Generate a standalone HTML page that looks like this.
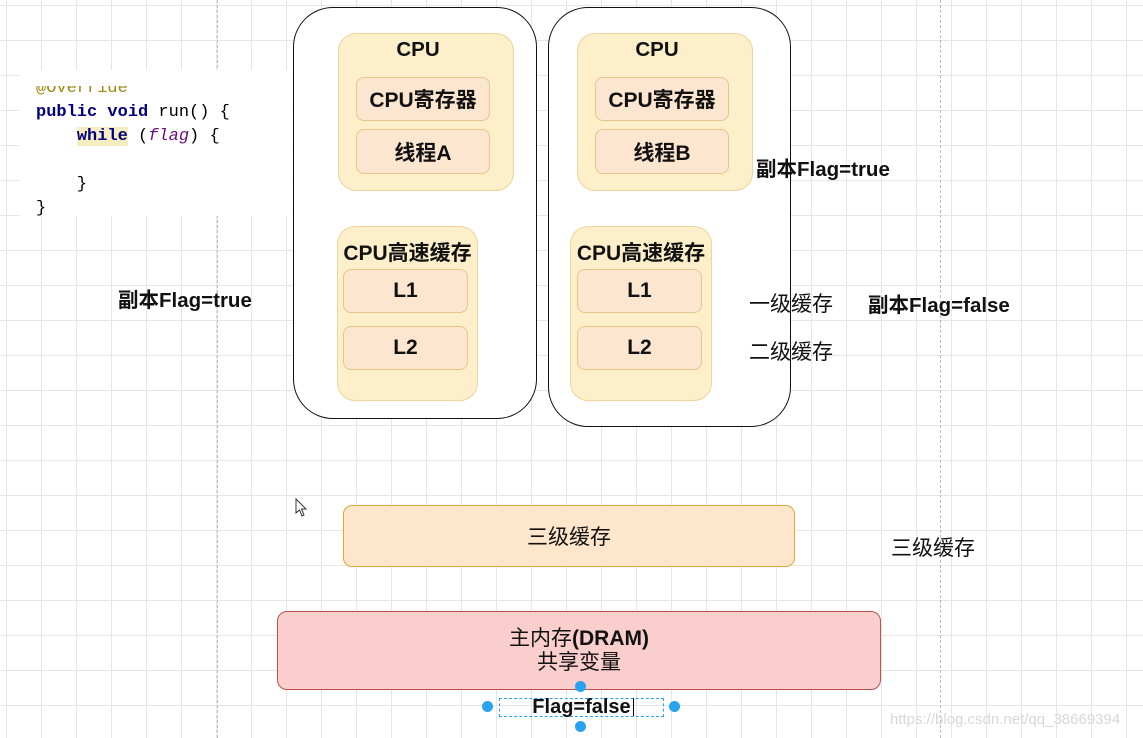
<!DOCTYPE html>
<html><head><meta charset="utf-8"><style>
body{margin:0;width:1143px;height:738px;overflow:hidden;position:relative;font-family:"Liberation Sans","Noto Sans CJK SC",sans-serif;
background-color:#fff;
background-image:linear-gradient(to right,#e6e6e6 1px,transparent 1px),linear-gradient(to bottom,#e6e6e6 1px,transparent 1px);
background-size:35px 35px;background-position:6px 5px;}
.a{position:absolute;box-sizing:border-box;}
.c{display:flex;align-items:center;justify-content:center;text-align:center;white-space:nowrap;}
.outer{border:1.5px solid #111;border-radius:40px;background:#fff;}
.cpu{background:#fdefc9;border:1px solid #f0d49b;border-radius:18px;}
.in{background:#fde6cf;border:1px solid #e8c48a;border-radius:8px;font-weight:bold;font-size:21px;color:#111;}
.b{font-weight:bold;font-size:20.5px;color:#111;white-space:nowrap;}
.t{font-size:21px;color:#111;white-space:nowrap;}
.dash{position:absolute;top:0;height:738px;width:0;border-left:1px dashed #bbb;}
.dot{position:absolute;width:11px;height:11px;border-radius:50%;background:#29a3ef;}
</style></head><body>
<div class="dash" style="left:217px"></div>
<div class="dash" style="left:940px"></div>

<div class="a" style="left:20px;top:78px;width:272px;height:138px;background:#fff;"></div>
<pre class="a" style="left:36px;top:77px;margin:0;font-family:'Liberation Mono','DejaVu Sans Mono',monospace;font-size:17px;line-height:24px;color:#000;"><span style="color:#9e880d">@Override</span>
<span style="color:#000080;font-weight:bold">public void</span> run() {
    <span style="color:#000080;font-weight:bold;background:#f6edc0">while</span> (<i style="color:#660e7a">flag</i>) {

    }
}</pre>
<div class="a" style="left:20px;top:70px;width:272px;height:16px;background:#fff;"></div>

<div class="a outer" style="left:293px;top:7px;width:244px;height:412px"></div>
<div class="a outer" style="left:548px;top:7px;width:243px;height:420px"></div>

<div class="a cpu" style="left:338px;top:33px;width:176px;height:158px"></div>
<div class="a b c" style="left:338px;top:38px;width:160px;height:24px">CPU</div>
<div class="a in c" style="left:356px;top:77px;width:134px;height:44px">CPU寄存器</div>
<div class="a in c" style="left:356px;top:129px;width:134px;height:45px">线程A</div>

<div class="a cpu" style="left:577px;top:33px;width:176px;height:158px"></div>
<div class="a b c" style="left:577px;top:38px;width:160px;height:24px">CPU</div>
<div class="a in c" style="left:595px;top:77px;width:134px;height:44px">CPU寄存器</div>
<div class="a in c" style="left:595px;top:129px;width:134px;height:45px">线程B</div>

<div class="a cpu" style="left:337px;top:226px;width:141px;height:175px"></div>
<div class="a b c" style="left:337px;top:240px;width:141px;height:24px;font-size:21px">CPU高速缓存</div>
<div class="a in c" style="left:343px;top:269px;width:125px;height:44px">L1</div>
<div class="a in c" style="left:343px;top:326px;width:125px;height:44px">L2</div>

<div class="a cpu" style="left:570px;top:226px;width:142px;height:175px"></div>
<div class="a b c" style="left:570px;top:240px;width:142px;height:24px;font-size:21px">CPU高速缓存</div>
<div class="a in c" style="left:577px;top:269px;width:125px;height:44px">L1</div>
<div class="a in c" style="left:577px;top:326px;width:125px;height:44px">L2</div>

<div class="a b" style="left:756px;top:152px">副本Flag=true</div>
<div class="a b" style="left:118px;top:283px">副本Flag=true</div>
<div class="a t" style="left:749px;top:288px">一级缓存</div>
<div class="a b" style="left:868px;top:288px">副本Flag=false</div>
<div class="a t" style="left:749px;top:336px">二级缓存</div>

<div class="a c t" style="left:343px;top:505px;width:452px;height:62px;background:#fee6cc;border:1.5px solid #e0a83a;border-radius:9px;">三级缓存</div>
<div class="a t" style="left:891px;top:532px">三级缓存</div>

<div class="a c t" style="left:277px;top:611px;width:604px;height:79px;background:#f9cecc;border:1.5px solid #b85450;border-radius:10px;flex-direction:column;line-height:24px;"><div>主内存<b>(DRAM)</b></div><div>共享变量</div></div>

<div class="a b c" style="left:499px;top:698px;width:165px;height:19px;border:1px dashed #29a3ef;font-size:20px">Flag=false</div>
<div class="a" style="left:633px;top:698px;width:1px;height:18px;background:#000"></div>
<div class="dot" style="left:575px;top:681px"></div>
<div class="dot" style="left:575px;top:721px"></div>
<div class="dot" style="left:482px;top:701px"></div>
<div class="dot" style="left:669px;top:701px"></div>
<div class="a" style="left:890px;top:711px;font-size:15px;color:#d8d8d8;white-space:nowrap">https://blog.csdn.net/qq_38669394</div>
<svg class="a" style="left:295px;top:498px" width="14" height="20"><path d="M1 1 L1 15 L4.5 12 L7 18 L9 17 L6.5 11 L11 11 Z" fill="#fff" stroke="#333" stroke-width="1"/></svg>
</body></html>
